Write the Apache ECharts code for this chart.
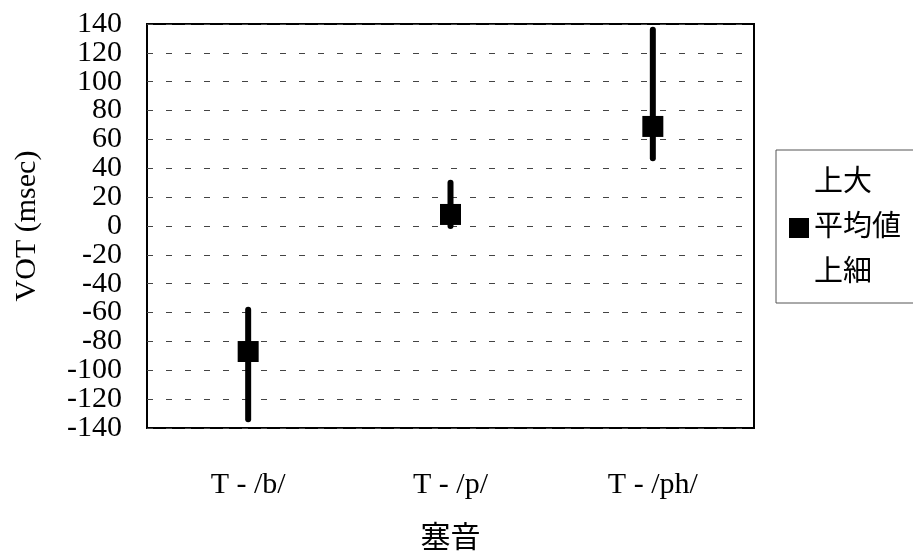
<!DOCTYPE html>
<html>
<head>
<meta charset="utf-8">
<script src="https://cdn.jsdelivr.net/npm/echarts@6/dist/echarts.min.js"></script>
<style>
html,body{margin:0;padding:0;background:#fff;}
#chart{width:913px;height:555px;}
</style>
</head>
<body>
<div id="chart"></div>
<script>
const categories = ['T - /b/', 'T - /p/', 'T - /ph/'];
const highValues = [-58, 30, 136];   // 上大
const meanValues = [-87, 8, 69];     // 平均値
const lowValues = [-134, 0, 47];     // 上細
const yMin = -140, yMax = 140, yStep = 20;

const serif = '"Liberation Serif", "Times New Roman", "Noto Sans CJK JP", serif';
const labelStyle = { fontFamily: serif, fontSize: 30, color: '#000' };
const chart = echarts.init(document.getElementById('chart'));

chart.setOption({
  animation: false,
  backgroundColor: '#fff',
  grid: {
    left: 147, top: 24, right: 159, bottom: 127,
    containLabel: false,
    outerBoundsMode: 'none',
    show: true, borderColor: '#000', borderWidth: 2, backgroundColor: 'transparent'
  },
  legend: {
    orient: 'vertical',
    left: 776, top: 150,
    padding: [18, 16, 15, 13],
    itemGap: 15,
    itemWidth: 20, itemHeight: 20,
    borderColor: '#555', borderWidth: 1,
    backgroundColor: '#fff',
    textStyle: { fontFamily: serif, fontSize: 29, color: '#000', lineHeight: 30 },
    data: [
      { name: '上大', icon: 'rect' },
      { name: '平均値', icon: 'rect' },
      { name: '上細', icon: 'rect' }
    ]
  },
  xAxis: {
    type: 'category',
    data: categories,
    boundaryGap: true,
    axisLine: { show: false },
    axisTick: { show: false },
    axisLabel: Object.assign({ margin: 42 }, labelStyle),
    name: '塞音',
    nameLocation: 'middle',
    nameGap: 96,
    nameTextStyle: labelStyle
  },
  yAxis: [
    {
      type: 'value',
      min: yMin, max: yMax, interval: yStep,
      axisLine: { show: false },
      axisTick: { show: false },
      axisLabel: Object.assign({ margin: 25, showMinLabel: false, showMaxLabel: false }, labelStyle),
      splitLine: { show: true, lineStyle: { color: '#444', width: 1, type: [6, 13] } },
      name: 'VOT (msec)',
      nameLocation: 'middle',
      nameGap: 105,
      nameTextStyle: labelStyle
    },
    {
      type: 'value',
      position: 'left',
      min: yMin, max: yMax, interval: yMax - yMin,
      axisLine: { show: false },
      axisTick: { show: false },
      splitLine: { show: false },
      axisLabel: Object.assign({ margin: 25, showMinLabel: true, showMaxLabel: true }, labelStyle)
    }
  ],
  series: [
    {
      type: 'custom',
      name: 'range',
      data: categories.map((c, i) => [i, highValues[i], lowValues[i]]),
      encode: { x: 0, y: [1, 2] },
      renderItem: function (params, api) {
        const x = api.value(0);
        const p1 = api.coord([x, api.value(1)]);
        const p2 = api.coord([x, api.value(2)]);
        return {
          type: 'line',
          shape: { x1: p1[0], y1: p1[1], x2: p2[0], y2: p2[1] },
          style: { stroke: '#000', lineWidth: 6, lineCap: 'round' }
        };
      },
      z: 2
    },
    {
      type: 'scatter', name: '上大', data: highValues,
      symbolSize: 0, itemStyle: { color: 'rgba(0,0,0,0)' }, z: 1
    },
    {
      type: 'scatter', name: '平均値', data: meanValues,
      symbol: 'rect', symbolSize: 21, itemStyle: { color: '#000', opacity: 1 }, z: 3
    },
    {
      type: 'scatter', name: '上細', data: lowValues,
      symbolSize: 0, itemStyle: { color: 'rgba(0,0,0,0)' }, z: 1
    }
  ]
});
</script>
</body>
</html>
